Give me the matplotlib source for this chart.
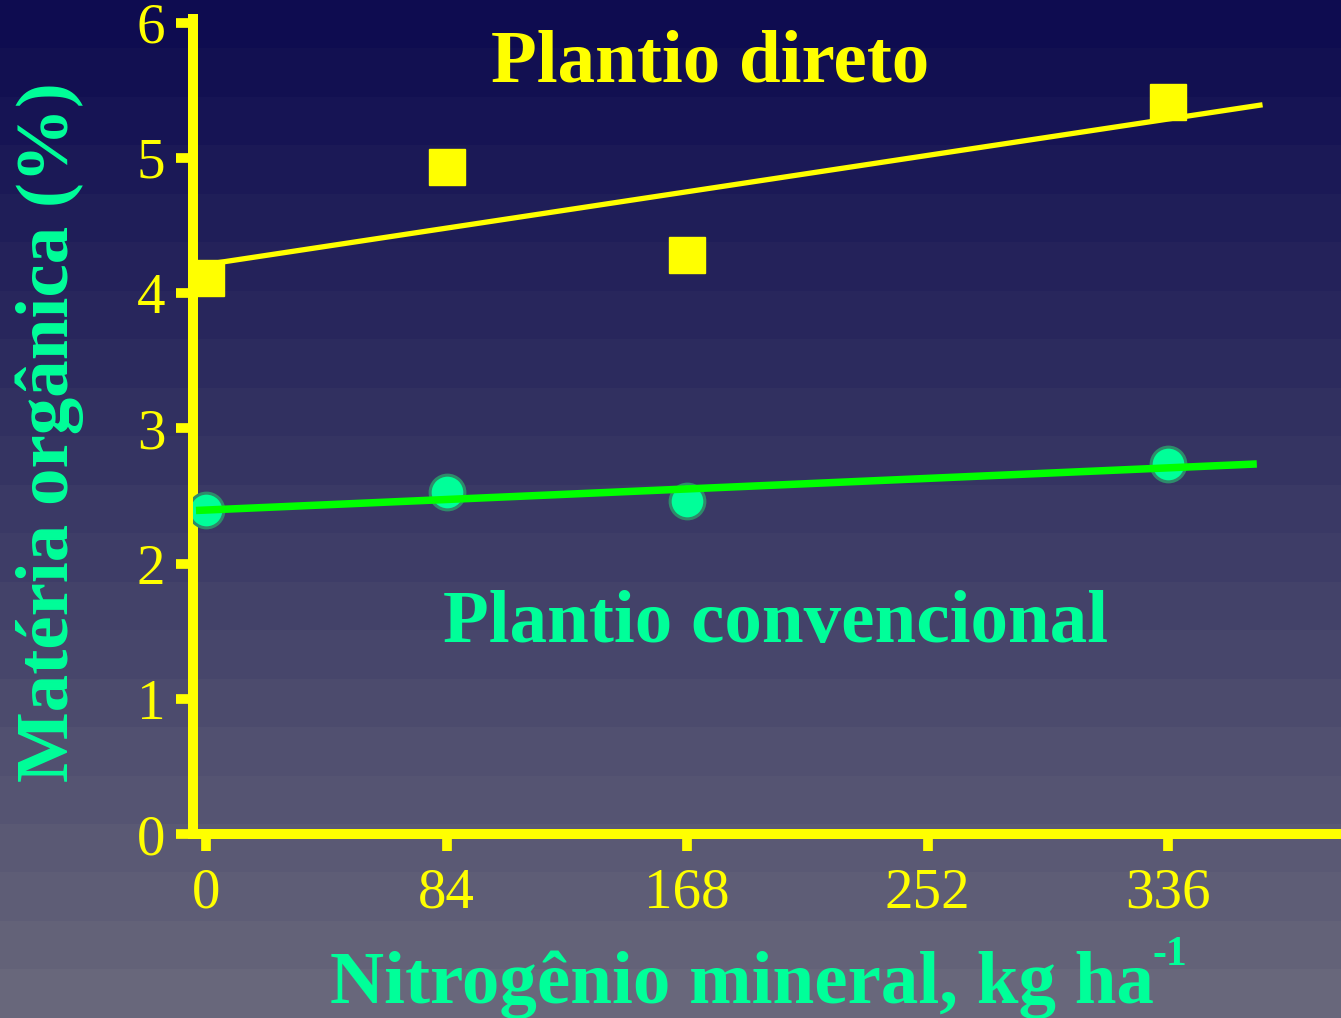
import numpy as np
import matplotlib
matplotlib.use("Agg")
from matplotlib import pyplot as plt
from matplotlib.colors import LinearSegmentedColormap

# Nitrogen rates (kg/ha) and soil organic matter (%)
n_rates = [0, 84, 168, 336]
mo_direto = [4.11, 4.93, 4.28, 5.41]
mo_convencional = [2.40, 2.53, 2.46, 2.74]
x_ticks = [0, 84, 168, 252, 336]
y_ticks = [0, 1, 2, 3, 4, 5, 6]

yellow = "#ffff00"
mint = "#00ff99"

plt.rcParams["font.family"] = ["Liberation Serif", "DejaVu Serif"]

fig = plt.figure(figsize=(13.41, 10.18), dpi=100)

# banded background gradient, navy at the top to grey at the bottom
bg = fig.add_axes([0, 0, 1, 1], zorder=-1)
grad = LinearSegmentedColormap.from_list("bg", ["#0e0c50", "#3a3965", "#68677b"])
bands = np.linspace(0, 1, 21).reshape(-1, 1)
bg.imshow(bands, cmap=grad, aspect="auto", interpolation="nearest", extent=[0, 1, 0, 1], origin="upper")
bg.set_axis_off()

ax = fig.add_axes([0.144, 0.1807, 0.856, 0.801])
ax.patch.set_alpha(0)

# linear fits for both tillage systems
p_d = np.polyfit(n_rates, mo_direto, 1)
p_c = np.polyfit(n_rates, mo_convencional, 1)
xd = np.array([0, 369])
xc = np.array([-3.5, 367])

ax.plot(n_rates, mo_direto, "s", color=yellow, markersize=26, zorder=3)
ax.plot(xd, np.polyval(p_d, xd), color=yellow, lw=3.8, zorder=4, solid_capstyle="butt")

ax.plot(n_rates, mo_convencional, "o", color=mint, markersize=25,
        markeredgecolor="#2e8b6a", markeredgewidth=2.2, zorder=3)
ax.plot(xc, np.polyval(p_c, xc), color="#00ff00", lw=5.4, zorder=4, solid_capstyle="butt")

ax.set_xlim(-4.5, 396.4)
ax.set_ylim(0, 6.03)
ax.set_xticks(x_ticks)
ax.set_yticks(y_ticks)

for side in ["top", "right"]:
    ax.spines[side].set_visible(False)
for side in ["left", "bottom"]:
    ax.spines[side].set_color(yellow)
    ax.spines[side].set_linewidth(7.2)
ax.spines["left"].set_bounds(0, 6.03)

ax.tick_params(axis="both", colors=yellow, length=12, width=7, labelsize=41)
ax.tick_params(axis="y", pad=8)
ax.tick_params(axis="x", pad=12)

ax.text(176, 5.70, "Plantio direto", color=yellow, fontsize=54, fontweight="bold",
        ha="center", va="center")
ax.text(199, 1.55, "Plantio convencional", color=mint, fontsize=54, fontweight="bold",
        ha="center", va="center")

ax.set_xlabel("Nitrogênio mineral, kg ha", color=mint, fontsize=54, fontweight="bold")
ax.xaxis.set_label_coords(0.478, -0.185)
ax.xaxis.label.set_va("center")
# unit exponent set as a small superscript after "ha"
fig.text(1152 / 1341, 1 - 955 / 1018, "-1", color=mint, fontsize=30, fontweight="bold",
         ha="left", va="center")

ax.set_ylabel("Matéria orgânica (%)", color=mint, fontsize=54, fontweight="bold")
ax.yaxis.set_label_coords(-0.125, 0.493)
ax.yaxis.label.set_va("center")

fig.savefig("out.png", dpi=100)
